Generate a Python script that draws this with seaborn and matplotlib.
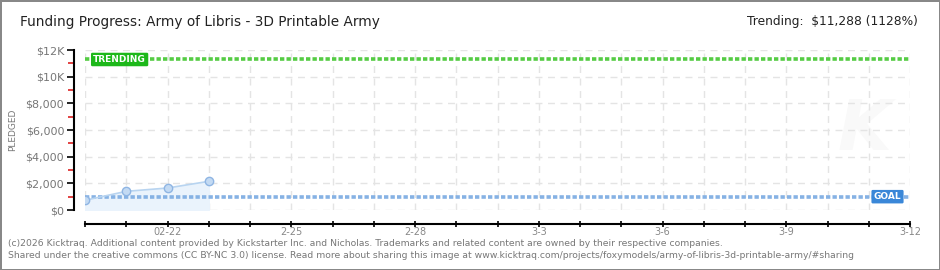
import matplotlib
matplotlib.use("Agg")
import matplotlib.pyplot as plt
import matplotlib.dates as mdates
from matplotlib.ticker import FixedLocator, FuncFormatter
import seaborn as sns
import pandas as pd
import numpy as np

# ---- data ----
dates = ["2026-02-20", "2026-02-21", "2026-02-22", "2026-02-23"]
pledged = [730, 1400, 1650, 2150]
goal = 1000
trending = 11288
x_start = "2026-02-20"
x_end = "2026-03-12"
y_ticks = [0, 2000, 4000, 6000, 8000, 10000, 12000]
y_tick_labels = ["$0", "$2,000", "$4,000", "$6,000", "$8,000", "$10K", "$12K"]
x_label_dates = ["2026-02-22", "2026-02-25", "2026-02-28", "2026-03-03",
                 "2026-03-06", "2026-03-09", "2026-03-12"]
x_label_texts = ["02-22", "2-25", "2-28", "3-3", "3-6", "3-9", "3-12"]

title = "Funding Progress: Army of Libris - 3D Printable Army"
trend_text = "Trending:  $11,288 (1128%)"
footer1 = ("(c)2026 Kicktraq. Additional content provided by Kickstarter Inc. and Nicholas. "
           "Trademarks and related content are owned by their respective companies.")
footer2 = ("Shared under the creative commons (CC BY-NC 3.0) license. Read more about sharing this "
           "image at www.kicktraq.com/projects/foxymodels/army-of-libris-3d-printable-army/#sharing")

sns.set_theme(style="white")
plt.rcParams["font.family"] = ["DejaVu Sans"]

df = pd.DataFrame({"date": pd.to_datetime(dates), "pledged": pledged})

fig = plt.figure(figsize=(9.4, 2.7), dpi=100)
fig.patch.set_facecolor("white")
fig.patch.set_edgecolor("#888888")
fig.patch.set_linewidth(2)

W, H = 940, 270
ax = fig.add_axes([85 / W, (H - 210) / H, (910 - 85) / W, 160 / H])

xs = mdates.date2num(pd.to_datetime(x_start))
xe = mdates.date2num(pd.to_datetime(x_end))
ax.set_xlim(xs, xe)
ax.set_ylim(0, 12000)

# grid
day_ticks = np.arange(xs, xe + 0.5, 1.0)
ax.xaxis.set_major_locator(FixedLocator(day_ticks))
ax.yaxis.set_major_locator(FixedLocator(y_ticks))
ax.yaxis.set_minor_locator(FixedLocator([1000, 3000, 5000, 7000, 9000, 11000]))
ax.grid(True, which="major", color="#e4e4e4", linestyle=(0, (5, 4)), linewidth=1)

# fill + line
ax.fill_between(mdates.date2num(df["date"]), df["pledged"], 0, color="#eaf3fc", zorder=1)
sns.lineplot(data=df, x="date", y="pledged", ax=ax, color="#b8d4f0", linewidth=1.2,
             marker="o", markersize=6, markerfacecolor="#c3daf3",
             markeredgecolor="#8fb5e3", markeredgewidth=1, zorder=3)

# goal & trending lines
ax.axhline(goal, color="#86b2e4", linestyle=(0, (1.2, 0.6)), linewidth=2.6, zorder=2)
ax.axhline(trending, color="#55cc44", linestyle=(0, (1.2, 0.6)), linewidth=2.6, zorder=2)

ax.text(mdates.date2num(pd.to_datetime("2026-02-20")) + 0.2, trending, "TRENDING",
        color="white", fontsize=6.5, fontweight="bold", va="center", ha="left", zorder=5,
        bbox=dict(boxstyle="round,pad=0.25,rounding_size=0.15", fc="#1db81a", ec="none"))
ax.text(mdates.date2num(pd.to_datetime("2026-03-11")) + 0.12, goal, "GOAL",
        color="white", fontsize=6.5, fontweight="bold", va="center", ha="left", zorder=5,
        bbox=dict(boxstyle="round,pad=0.25,rounding_size=0.15", fc="#3a87d8", ec="none"))

# watermark
ax.text(xe - 1.1, 6000, "K", fontsize=50, fontstyle="italic", fontweight="bold",
        color="#f9f9f9", ha="center", va="center", zorder=0)

# axes styling
for s in ["top", "right"]:
    ax.spines[s].set_visible(False)
ax.spines["left"].set_position(("outward", 8))
ax.spines["bottom"].set_position(("outward", 10))
ax.spines["left"].set_color("black")
ax.spines["bottom"].set_color("black")
ax.spines["left"].set_linewidth(1.5)
ax.spines["bottom"].set_linewidth(1.5)

ax.set_yticklabels(y_tick_labels)
ax.tick_params(axis="y", which="major", length=5, width=1.2, color="black",
               labelsize=8, labelcolor="#777777", pad=2, left=True)
ax.tick_params(axis="y", which="minor", length=4, width=1.2, color="#dd2222", left=True)

lbl_map = dict(zip(np.round(mdates.date2num(pd.to_datetime(x_label_dates)), 3), x_label_texts))
ax.xaxis.set_major_formatter(FuncFormatter(lambda v, p: lbl_map.get(round(v, 3), "")))
ax.tick_params(axis="x", which="major", length=4, width=1.2, color="black", direction="inout",
               labelsize=7, labelcolor="#888888", pad=0, bottom=True)

ax.set_xlabel("")
ax.set_ylabel("PLEDGED", fontsize=6.5, color="#777777", labelpad=6)

# texts
fig.text(20 / W, 1 - 22 / H, title, fontsize=9.8, color="#222222", va="center", ha="left")
fig.text(918 / W, 1 - 22 / H, trend_text, fontsize=8.8, color="#222222", va="center", ha="right")
fig.text(8 / W, 1 - 243 / H, footer1, fontsize=6.65, color="#777777", va="center", ha="left")
fig.text(8 / W, 1 - 256 / H, footer2, fontsize=6.65, color="#777777", va="center", ha="left")

fig.savefig("out.png", dpi=100, facecolor=fig.get_facecolor(), edgecolor=fig.get_edgecolor())
